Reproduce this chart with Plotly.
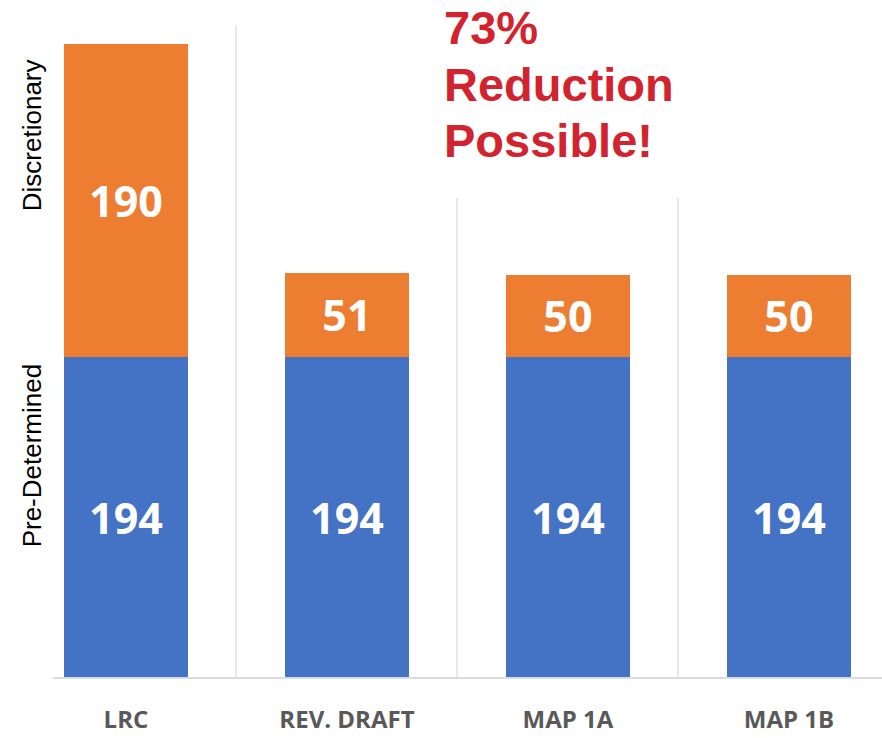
import plotly.graph_objects as go

categories = ["LRC", "REV. DRAFT", "MAP 1A", "MAP 1B"]
pre_determined = [194, 194, 194, 194]
discretionary = [190, 51, 50, 50]
series_names = ["Pre-Determined", "Discretionary"]
headline_lines = ["73%", "Reduction", "Possible!"]

BLUE = "#4472C4"
ORANGE = "#ED7D31"

fig = go.Figure()
for name, vals, col in [(series_names[0], pre_determined, BLUE),
                        (series_names[1], discretionary, ORANGE)]:
    fig.add_trace(go.Bar(
        x=categories, y=vals, name=name, width=0.56,
        marker=dict(color=col, line=dict(width=0)),
        text=[str(v) for v in vals], textposition="inside",
        insidetextanchor="middle",
        textfont=dict(family="Open Sans", size=43, color="white", weight="bold"),
        cliponaxis=False,
    ))

fig.update_layout(
    barmode="stack",
    width=882, height=738,
    margin=dict(l=53, r=0, t=25, b=61, autoexpand=False),
    paper_bgcolor="white", plot_bgcolor="white",
    showlegend=False,
    xaxis=dict(
        type="category", range=[-0.33, 3.421], automargin=False,
        tickson="boundaries", showgrid=True, gridcolor="#e8e8e8", gridwidth=2,
        showline=True, linecolor="#dcdcdc", linewidth=1.5,
        ticks="", ticklabelstandoff=20,
        tickfont=dict(family="Open Sans", size=24, color="#595959", weight="bold"),
        zeroline=False,
    ),
    yaxis=dict(range=[0, 395.3], showgrid=False, showticklabels=False,
               zeroline=False, showline=False, automargin=False),
)

# white panel behind headline
fig.add_shape(type="rect", xref="paper", yref="paper",
              x0=0.4548, x1=0.8227, y0=0.7347, y1=1.05,
              fillcolor="white", line=dict(width=0), layer="above")

for text, yp in zip(headline_lines, [0.9962, 0.9095, 0.8229]):
    fig.add_annotation(text=text, xref="paper", yref="paper",
                       x=0.469, y=yp, xanchor="left", yanchor="middle",
                       showarrow=False,
                       font=dict(family="Liberation Sans", size=47,
                                 color="#D2232E", weight="bold"))

for text, yp in zip(series_names, [0.340, 0.831]):
    fig.add_annotation(text=text, xref="paper", yref="paper",
                       x=-0.0253, y=yp, xanchor="center", yanchor="middle",
                       textangle=-90, showarrow=False,
                       font=dict(family="Liberation Sans", size=26, color="black"))

fig.write_html("out.html", config={"displayModeBar": False},
               post_script="document.body.style.margin='0';document.body.style.overflow='hidden';")
